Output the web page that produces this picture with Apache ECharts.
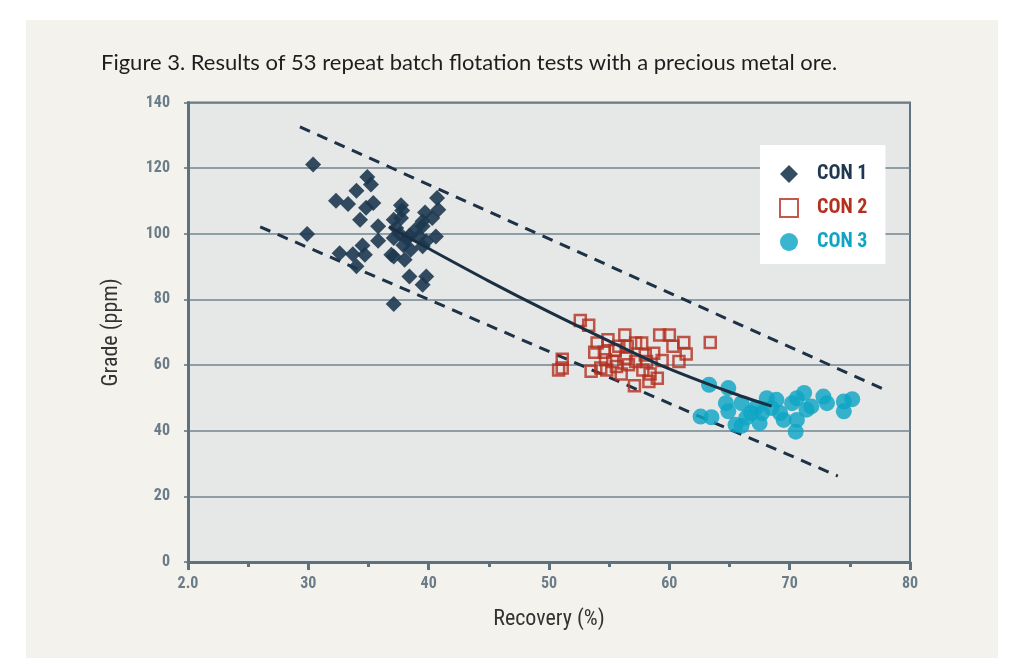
<!DOCTYPE html>
<html><head><meta charset="utf-8">
<script src="https://cdn.jsdelivr.net/npm/echarts@6/dist/echarts.min.js"></script>
<style>html,body{margin:0;padding:0;background:#ffffff;}#c{width:1024px;height:663px;}</style>
</head><body><div id="c"></div>
<script>
const titleText = 'Figure 3. Results of 53 repeat batch flotation tests with a precious metal ore.';
const xTickLabels = {20:'2.0',30:'30',40:'40',50:'50',60:'60',70:'70',80:'80'};
const seriesNames = ['CON 1','CON 2','CON 3'];
const con1 = [[30.4,121.1],[34.9,117.3],[35.2,115.0],[34.0,113.1],[32.3,110.1],[33.3,109.1],[35.4,109.4],[34.8,107.9],[34.3,104.3],[35.8,102.3],[29.9,99.9],[35.8,97.9],[32.6,94.1],[33.7,93.8],[34.5,96.4],[34.7,93.6],[34.0,90.1],[37.1,78.6],[37.7,108.7],[37.8,107.1],[37.7,104.8],[37.1,104.3],[37.3,101.8],[37.6,99.9],[37.1,98.7],[36.9,93.6],[37.1,93.1],[38.0,92.1],[38.5,95.1],[38.4,99.4],[38.9,101.2],[39.5,102.3],[39.5,103.8],[39.7,106.5],[40.3,104.8],[40.8,107.3],[40.7,110.9],[39.2,99.2],[39.8,97.7],[40.6,99.2],[39.5,96.2],[38.4,87.0],[39.8,87.0],[39.5,84.5],[38.2,98.5],[37.9,96.5]];
const con2 = [[52.6,73.6],[53.3,72.1],[51.1,61.8],[50.8,58.5],[51.1,59.1],[54.0,66.7],[54.9,67.7],[53.8,63.9],[54.6,63.9],[56.3,69.2],[55.8,65.7],[56.5,65.7],[57.2,66.7],[57.7,66.7],[59.2,69.2],[60.0,69.2],[60.3,65.7],[61.2,66.9],[61.4,63.4],[60.8,61.1],[63.4,66.9],[58.7,63.6],[58.0,63.1],[58.1,61.1],[59.4,61.4],[54.7,61.6],[55.3,61.1],[56.4,62.1],[57.2,61.1],[54.3,59.1],[54.8,58.5],[55.6,59.6],[56.6,60.1],[53.5,58.1],[56.0,57.3],[57.8,58.5],[58.4,57.3],[59.0,56.0],[58.3,55.0],[57.1,53.7],[55.5,64.5]];
const con3 = [[63.3,54.0],[64.9,53.0],[62.6,44.3],[63.5,44.1],[64.7,48.4],[64.9,45.9],[66.0,48.4],[65.5,41.8],[66.0,41.5],[66.8,45.4],[67.7,45.4],[67.5,42.3],[68.1,49.9],[68.9,49.4],[68.5,46.9],[69.2,45.4],[69.5,43.3],[70.2,48.4],[70.6,49.9],[71.2,51.5],[70.5,39.7],[70.6,43.3],[71.4,46.4],[71.8,47.4],[72.8,50.4],[73.1,48.4],[74.5,48.9],[75.2,49.6],[74.5,45.9],[67.2,47.0],[66.4,44.0]];
const trend = [[36.7,102.2],[40,95.5],[45,85.6],[50,76.2],[55,67.3],[59.5,59.6],[65,51.8],[68.5,47.5]];
const upperBound = [[29.3,132.6],[77.9,52.5]];
const lowerBound = [[26.0,102.1],[74.0,26.2]];

const C1 = '#1d3850', C2 = '#b3301f', C3 = '#0ea5c4';
const tickFont = '"Liberation Sans Narrow","Roboto Condensed","Liberation Sans",sans-serif';
const chart = echarts.init(document.getElementById('c'), null, {renderer:'canvas'});
const dashStyle = {color:'#1d3147', width:3, type:[11,8]};
const legendRich = {};
[['c1',C1],['c2',C2],['c3',C3]].forEach(([k,c]) => {
  legendRich[k] = {color:c, fontFamily:tickFont, fontWeight:'bold', fontSize:20, padding:[0,0,0,14]};
});
chart.setOption({
  animation:false,
  backgroundColor:'#ffffff',
  graphic:[{type:'rect', z:-10, shape:{x:26,y:20,width:972,height:638}, style:{fill:'#f3f2ec'}}],
  title:{text:titleText, left:96, top:47, textStyle:{fontFamily:'Lato, "Open Sans", sans-serif', fontSize:22, fontWeight:'normal', color:'#1e1e1e'}},
  grid:{left:188, right:114, top:102.5, bottom:101, show:true, backgroundColor:'#e6e7e7', borderColor:'#61737f', borderWidth:2},
  legend:{
    orient:'vertical', left:760, top:145, backgroundColor:'#ffffff', padding:[19,18,12,19],
    itemWidth:18, itemHeight:18, itemGap:14,
    formatter: name => '{c' + (seriesNames.indexOf(name)+1) + '|' + name + '}',
    textStyle:{fontFamily:tickFont, fontWeight:'bold', fontSize:20, rich:legendRich},
    data:[
      {name:'CON 1', icon:'diamond'},
      {name:'CON 2', icon:'rect'},
      {name:'CON 3', icon:'circle'}
    ]
  },
  xAxis:{
    type:'value', min:20, max:80, interval:10,
    name:'Recovery (%)', nameLocation:'middle', nameGap:46,
    nameTextStyle:{fontFamily:tickFont, fontSize:22, color:'#333333'},
    axisLine:{show:true, onZero:false, lineStyle:{color:'#5e717e', width:3}},
    axisTick:{show:true, length:8, lineStyle:{color:'#5e717e', width:3}},
    minorTick:{show:true, splitNumber:2, length:5, lineStyle:{color:'#5e717e', width:3}},
    splitLine:{show:false},
    axisLabel:{margin:14, fontFamily:tickFont, fontWeight:'bold', fontSize:16, color:'#6b7c88', formatter:v=>xTickLabels[v]}
  },
  yAxis:{
    type:'value', min:0, max:140, interval:20,
    name:'Grade (ppm)', nameLocation:'middle', nameGap:66,
    nameTextStyle:{fontFamily:tickFont, fontSize:22, color:'#333333'},
    axisLine:{show:true, lineStyle:{color:'#5e717e', width:3}},
    axisTick:{show:true, length:4, lineStyle:{color:'#5e717e', width:1.5}},
    splitLine:{show:true, lineStyle:{color:'#72848e', width:1.5}},
    axisLabel:{margin:18, fontFamily:tickFont, fontWeight:'bold', fontSize:16, color:'#6b7c88'}
  },
  series:[
    {name:'upper', type:'line', data:upperBound, symbol:'none', lineStyle:dashStyle, z:1, silent:true},
    {name:'lower', type:'line', data:lowerBound, symbol:'none', lineStyle:dashStyle, z:1, silent:true},
    {name:'CON 1', type:'scatter', data:con1, symbol:'diamond', symbolSize:16, itemStyle:{color:C1, opacity:0.9}, z:2},
    {name:'CON 2', type:'scatter', data:con2, symbol:'rect', symbolSize:11, itemStyle:{color:'rgba(255,255,255,0)', borderColor:C2, borderWidth:2.5}, z:2},
    {name:'CON 3', type:'scatter', data:con3, symbol:'circle', symbolSize:16, itemStyle:{color:C3, opacity:0.82}, z:2},
    {name:'trend', type:'line', data:trend, symbol:'none', smooth:0.3, lineStyle:{color:'#1b2f42', width:3}, z:3, silent:true}
  ]
});
</script></body></html>
